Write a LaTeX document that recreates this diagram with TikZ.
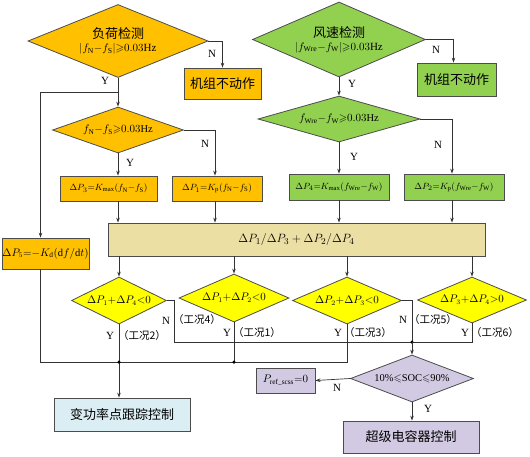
\documentclass[tikz,border=0pt]{standalone}
\usepackage{amsmath,amssymb}
\usepackage{fontspec}
\setmainfont{Liberation Serif}
\newfontfamily\cjk{Noto Sans CJK SC}
\usetikzlibrary{arrows.meta,shapes.geometric,positioning}
\definecolor{loadorange}{HTML}{FFC000}
\definecolor{windgreen}{HTML}{92D050}
\definecolor{combyellow}{HTML}{FFFF00}
\definecolor{sumwheat}{HTML}{EBDFA4}
\definecolor{mpptblue}{HTML}{DAEEF3}
\definecolor{soclilac}{HTML}{D2CAE2}
\tikzset{
    % decision diamonds
    decision/.style={
        diamond, draw=black!70, line width=0.8pt,
        inner sep=0pt, align=center
    },
    dsize/.style n args={3}{minimum width=#1, minimum height=#2, aspect=#3},
    loaddec/.style={decision, fill=loadorange},
    winddec/.style={decision, fill=windgreen},
    combdec/.style={decision, fill=combyellow},
    socdec/.style={decision, fill=soclilac},
    % process boxes
    procbox/.style={
        rectangle, draw=black!70, line width=0.8pt,
        inner sep=0pt, align=center
    },
    loadbox/.style={procbox, fill=loadorange},
    windbox/.style={procbox, fill=windgreen},
    sumbox/.style={procbox, fill=sumwheat},
    mpptbox/.style={procbox, fill=mpptblue},
    socbox/.style={procbox, fill=soclilac},
    % texts
    zhtext/.style={font=\cjk\fontsize{13}{16}\selectfont},
    eqtext/.style={font=\fontsize{10.5}{12}\selectfont},
    boxeq/.style={font=\fontsize{9.5}{11}\selectfont},
    lbl/.style={inner sep=0pt, font=\fontsize{11}{13}\selectfont},
    caselbl/.style={inner sep=0pt, font=\cjk\fontsize{10.5}{12}\selectfont},
}
\tikzset{
    line/.style={draw=black!80, line width=0.7pt},
    arrow/.style={line, -{Stealth[length=5pt,width=3.5pt]}},
    dot/.style={circle, fill=black, inner sep=0pt, minimum size=3.5pt},
}

\begin{document}
\begin{tikzpicture}[x=1pt,y=-1pt]
    \useasboundingbox (0,0) rectangle (530,456);
    % load side
    \node[loaddec, dsize={180}{73}{2.47}] (load) at (118,41)
        {{\cjk\fontsize{13}{16}\selectfont 负荷检测}\\[1pt]
         {\fontsize{11}{13}\selectfont $|f_{\mathrm N}{-}f_{\mathrm S}|{\geqslant}0.03$Hz}};
    \node[loadbox, zhtext, minimum width=77, minimum height=31] (stopL) at (222.5,83.5) {机组不动作};
    \node[loaddec, eqtext, dsize={131}{46}{2.85}] (loadf) at (118,130)
        {$f_{\mathrm N}{-}f_{\mathrm S}{\geqslant}0.03$Hz};
    \node[loadbox, boxeq, minimum width=97, minimum height=25] (dp3) at (108.5,188.5)
        {$\Delta P_3{=}K_{\max}(f_{\mathrm N}{-}f_{\mathrm S})$};
    \node[loadbox, boxeq, minimum width=90, minimum height=25] (dp1) at (217,188.5)
        {$\Delta P_1{=}K_{\mathrm p}(f_{\mathrm N}{-}f_{\mathrm S})$};
    \node[loadbox, eqtext, minimum width=87, minimum height=31] (dp5) at (45.5,253.5)
        {$\Delta P_5{=}{-}K_{\mathrm d}(\mathrm{d}f/\mathrm{d}t)$};
    % wind side
    \node[winddec, dsize={173}{75}{2.31}] (wind) at (339,39.5)
        {{\cjk\fontsize{13}{16}\selectfont 风速检测}\\[1pt]
         {\fontsize{11}{13}\selectfont $|f_{\mathrm{Wre}}{-}f_{\mathrm W}|{\geqslant}0.03$Hz}};
    \node[windbox, zhtext, minimum width=79, minimum height=33] (stopW) at (456.5,79.5) {机组不动作};
    \node[winddec, eqtext, dsize={162}{46}{3.52}] (windf) at (339,119)
        {$f_{\mathrm{Wre}}{-}f_{\mathrm W}{\geqslant}0.03$Hz};
    \node[windbox, boxeq, minimum width=100, minimum height=26] (dp4) at (339,187)
        {$\Delta P_4{=}K_{\max}(f_{\mathrm{Wre}}{-}f_{\mathrm W})$};
    \node[windbox, boxeq, minimum width=100, minimum height=26] (dp2) at (454,187)
        {$\Delta P_2{=}K_{\mathrm p}(f_{\mathrm{Wre}}{-}f_{\mathrm W})$};
    % sum bar and the four cases
    \node[sumbox, font=\fontsize{13}{15}\selectfont, minimum width=377, minimum height=33] (bar) at (296.5,239.5)
        {$\Delta P_1/\Delta P_3+\Delta P_2/\Delta P_4$};
    \node[combdec, eqtext, dsize={95}{47}{2.02}] (c5) at (119,300.5)
        {$\Delta P_1{+}\Delta P_4{<}0$};
    \node[combdec, eqtext, dsize={110}{48}{2.29}] (c6) at (234,298)
        {$\Delta P_1{+}\Delta P_2{<}0$};
    \node[combdec, eqtext, dsize={109}{47}{2.32}] (c7) at (347,300.5)
        {$\Delta P_2{+}\Delta P_3{<}0$};
    \node[combdec, eqtext, dsize={109}{46}{2.37}] (c8) at (472,300)
        {$\Delta P_3{+}\Delta P_4{>}0$};
    % outputs
    \node[mpptbox, zhtext, minimum width=136, minimum height=33] (vmp) at (122,414.5) {变功率点跟踪控制};
    \node[socdec, eqtext, dsize={123}{47}{2.62}] (soc) at (412,378.5)
        {10\%$\leqslant$SOC$\leqslant$90\%};
    \node[socbox, eqtext, minimum width=59, minimum height=25] (pref) at (285.5,380.5)
        {$P_{\mathrm{ref\_scss}}{=}0$};
    \node[socbox, zhtext, minimum width=136, minimum height=32] (scc) at (411,437) {超级电容器控制};

    \coordinate (ybr) at (118,92);
    \coordinate (busA) at (0,362);
    \coordinate (jB) at (412,342);

    % upper connectors
    \draw[arrow] (load.south) -- (loadf.north);
    \draw[arrow] (ybr) -| ([xshift=-5pt]dp5.north);
    \draw[arrow] (load.east) -| (stopL.north);
    \draw[arrow] (loadf.east) -| ([xshift=-2pt]dp1.north);
    \draw[arrow] (loadf.south) -- (loadf.south |- dp3.north);
    \draw[arrow] (wind.east) -| ([xshift=-3pt]stopW.north);
    \draw[arrow] (wind.south) -- (windf.north);
    \draw[arrow] (windf.east) -| ([xshift=-2pt]dp2.north);
    \draw[arrow] (windf.south) -- (dp4.north);
    \draw[arrow] (loadf.south |- dp3.south) -- (loadf.south |- bar.north);
    \draw[arrow] ([xshift=-2pt]dp1.south) -- ([xshift=-2pt]dp1.south |- bar.north);
    \draw[arrow] (dp4.south) -- (dp4.south |- bar.north);
    \draw[arrow] ([xshift=-2pt]dp2.south) -- ([xshift=-2pt]dp2.south |- bar.north);
    \foreach \c in {c5,c6,c7,c8}
        \draw[arrow] (bar.south -| \c.north) -- (\c.north);

    % lower connectors
    \draw[arrow] (c5.south) -- (c5.south |- vmp.north);
    \draw[line] ([xshift=-5pt]dp5.south) |- (c7.south |- busA) -- (c7.south);
    \draw[line] (c6.south) -- (c6.south |- busA);
    \node[dot] (dA5) at (c5.south |- busA) {};
    \node[dot] (dA6) at (c6.south |- busA) {};
    \draw[line] (c5.east) -- ++(7,0) |- (jB);
    \draw[line] (c7.east) -| (jB);
    \draw[line] (c8.south) |- (jB);
    \node[dot] (dB) at (jB) {};
    \draw[arrow] (jB) -- (jB |- soc.north);
    \draw[arrow] (soc.west) -- (pref.east);
    \draw[arrow] (soc.south) -- (soc.south |- scc.north);

    % branch labels
    \node[lbl] (nL) at (212,54) {N};
    \node[lbl] (yL) at (105,81) {Y};
    \node[lbl] (yLf) at (130,163) {Y};
    \node[lbl] (nLf) at (205,144) {N};
    \node[lbl] (nW) at (436,50) {N};
    \node[lbl] (yW) at (352,84) {Y};
    \node[lbl] (yWf) at (354,157) {Y};
    \node[lbl] (nWf) at (438,145) {N};
    \node[lbl] (y5) at (110,336) {Y};
    \node[caselbl] (k5) at (142,336) {（工况2）};
    \node[lbl] (n5) at (166,321) {N};
    \node[caselbl] (k5n) at (197,320) {（工况4）};
    \node[lbl] (y6) at (227,333) {Y};
    \node[caselbl] (k6) at (257,333) {（工况1）};
    \node[lbl] (y7) at (338,333) {Y};
    \node[caselbl] (k7) at (368,333) {（工况3）};
    \node[lbl] (n7) at (403,320) {N};
    \node[caselbl] (k7n) at (433,320) {（工况5）};
    \node[lbl] (y8) at (465,333) {Y};
    \node[caselbl] (k8) at (495,333) {（工况6）};
    \node[lbl] (nS) at (337,388) {N};
    \node[lbl] (yS) at (428,409) {Y};
\end{tikzpicture}
\end{document}
